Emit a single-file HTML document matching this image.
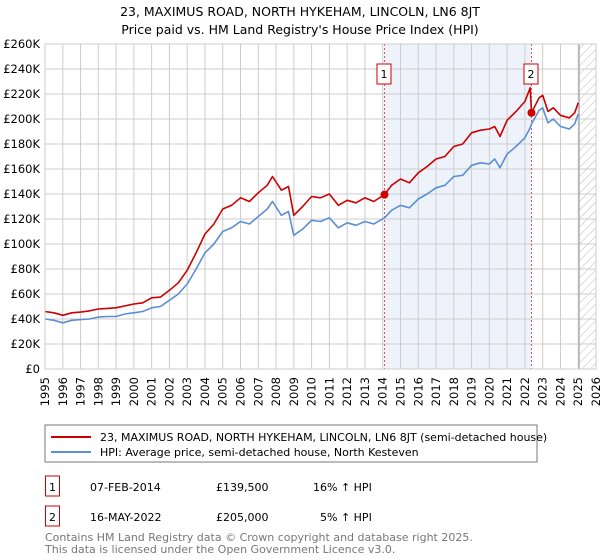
<!DOCTYPE html>
<html><head><meta charset="utf-8">
<style>
body{margin:0;background:#fff;font-family:"Liberation Sans","DejaVu Sans",sans-serif;}
#wrap{position:relative;width:600px;height:560px;overflow:hidden;}
svg text{font-family:"DejaVu Sans","Liberation Sans",sans-serif;}
</style></head>
<body>
<div id="wrap">
<svg id="chart" width="600" height="560" xmlns="http://www.w3.org/2000/svg">
<defs>
<pattern id="hatch" width="6" height="6" patternUnits="userSpaceOnUse" patternTransform="rotate(45)">
<line x1="0" y1="0" x2="0" y2="6" stroke="#bbb" stroke-width="1"/>
</pattern>
</defs>
<text x="300" y="16" text-anchor="middle" font-size="12.5" fill="#000">23, MAXIMUS ROAD, NORTH HYKEHAM, LINCOLN, LN6 8JT</text>
<text x="300" y="34" text-anchor="middle" font-size="12.5" fill="#000">Price paid vs. HM Land Registry's House Price Index (HPI)</text>
<g id="plot"></g>
<rect x="45" y="425" width="492" height="37" fill="#fff" stroke="#777"/>
<line x1="51" y1="437" x2="91" y2="437" stroke="#cc0000" stroke-width="2"/>
<text x="100" y="441" font-size="11">23, MAXIMUS ROAD, NORTH HYKEHAM, LINCOLN, LN6 8JT (semi-detached house)</text>
<line x1="51" y1="452" x2="91" y2="452" stroke="#5b8fd4" stroke-width="2"/>
<text x="100" y="456" font-size="11">HPI: Average price, semi-detached house, North Kesteven</text>
<g>
<rect x="45.5" y="476" width="14" height="20" fill="#fff" stroke="#cc0000"/>
<text x="52.5" y="491" text-anchor="middle" font-size="11">1</text>
<text x="90" y="491" font-size="11">07-FEB-2014</text>
<text x="216" y="491" font-size="11">£139,500</text>
<text x="313" y="491" font-size="11">16% ↑ HPI</text>
</g>
<g>
<rect x="45.5" y="506" width="14" height="20" fill="#fff" stroke="#cc0000"/>
<text x="52.5" y="521" text-anchor="middle" font-size="11">2</text>
<text x="90" y="521" font-size="11">16-MAY-2022</text>
<text x="216" y="521" font-size="11">£205,000</text>
<text x="320" y="521" font-size="11">5% ↑ HPI</text>
</g>
<text x="45" y="541" font-size="11" fill="#777">Contains HM Land Registry data © Crown copyright and database right 2025.</text>
<text x="45" y="553" font-size="11" fill="#777">This data is licensed under the Open Government Licence v3.0.</text>
</svg>
</div>
<script>
const years = [1995,1995.5,1996,1996.5,1997,1997.5,1998,1998.5,1999,1999.5,2000,2000.5,2001,2001.5,2002,2002.5,2003,2003.5,2004,2004.5,2005,2005.5,2006,2006.5,2007,2007.5,2007.8,2008.3,2008.7,2009,2009.5,2010,2010.5,2011,2011.5,2012,2012.5,2013,2013.5,2014.1,2014.5,2015,2015.5,2016,2016.5,2017,2017.5,2018,2018.5,2019,2019.5,2020,2020.3,2020.6,2021,2021.5,2022,2022.3,2022.37,2022.8,2023,2023.3,2023.6,2024,2024.5,2024.8,2025.0];
const hpiValues = [40,39,37,39,39.5,40,41.5,42,42,44,45,46,49,50,55,60,68,80,93,100,110,113,118,116,122,128,134,123,126,107,112,119,118,121,113,117,115,118,116,121,127,131,129,136,140,145,147,154,155,163,165,164,168,161,172,178,185,193,196,207,209,197,200,194,192,196,204];
const propertyValues = [46,45,43,45,45.5,46.5,48,48.5,49,50.5,52,53,57,57.5,63,69,79,93,108,116,128,131,137,134,141,147,154,143,146,123,130,138,137,140,131,135,133,137,134,139.5,147,152,149,157,162,168,170,178,180,189,191,192,194,186,199,206,214,225,205,217,219,206,209,203,201,205,213];
const yTicks = [0,20,40,60,80,100,120,140,160,180,200,220,240,260];
const yTickLabels = ["£0","£20K","£40K","£60K","£80K","£100K","£120K","£140K","£160K","£180K","£200K","£220K","£240K","£260K"];
const xTickYears = [1995,1996,1997,1998,1999,2000,2001,2002,2003,2004,2005,2006,2007,2008,2009,2010,2011,2012,2013,2014,2015,2016,2017,2018,2019,2020,2021,2022,2023,2024,2025,2026];
const saleYears = [2014.1,2022.37];
const salePrices = [139.5,205];
const saleLabels = ["1","2"];

const NS="http://www.w3.org/2000/svg";
const L=45,R=596,T=44,B=369;
const xS=y=>L+(y-1995)/(2026-1995)*(R-L);
const yS=v=>B-v/260*(B-T);
const g=document.getElementById('plot');
function mk(tag,attrs){const e=document.createElementNS(NS,tag);for(const k in attrs)e.setAttribute(k,attrs[k]);g.appendChild(e);return e;}

let e;
e=mk('rect',{x:xS(saleYears[0]),y:T,width:xS(saleYears[1])-xS(saleYears[0]),height:B-T,fill:'#eef3fb'});


e=mk('rect',{x:xS(2025.05),y:T,width:R-xS(2025.05),height:B-T,fill:'url(#hatch)'});


xTickYears.forEach(yr=>{
  const x=xS(yr);
  e=mk('line',{x1:x,y1:T,x2:x,y2:B,stroke:'#ccc','stroke-width':1});
  
  
  e=mk('text',{x:0,y:0,'text-anchor':'end','font-size':11.5,transform:'translate('+(x+4)+',377) rotate(-90)'});
  e.textContent=yr;
  
  
});
yTicks.forEach((v,i)=>{
  const y=yS(v);
  e=mk('line',{x1:L,y1:y,x2:R,y2:y,stroke:'#ccc','stroke-width':1});
  
  
  e=mk('text',{x:L-5,y:y+4,'text-anchor':'end','font-size':11.5});
  e.textContent=yTickLabels[i];
  
  
});
e=mk('line',{x1:xS(2025.05),y1:T,x2:xS(2025.05),y2:B,stroke:'#999','stroke-width':1});


saleYears.forEach((yr,i)=>{
  const x=xS(yr);
  e=mk('line',{x1:x,y1:T,x2:x,y2:B,stroke:'#e05555','stroke-width':1,'stroke-dasharray':'2,2'});
  
  
});
function path(vals,color,name){
  const d=vals.map((v,i)=>(i?'L':'M')+xS(years[i]).toFixed(1)+','+yS(v).toFixed(1)).join('');
  e=mk('path',{d:d,fill:'none',stroke:color,'stroke-width':1.6,'stroke-linejoin':'round'});
  
  
}
path(hpiValues,'#5b8fd4','hpi-line');
path(propertyValues,'#cc0000','property-price-line');
saleYears.forEach((yr,i)=>{
  const x=xS(yr),y=yS(salePrices[i]);
  e=mk('circle',{cx:x,cy:y,r:4,fill:'#cc0000'});
  
  
  e=mk('rect',{x:x-7.5,y:64,width:14,height:20,fill:'#fff',stroke:'#cc0000'});
  
  
  e=mk('text',{x:x-0.5,y:78,'text-anchor':'middle','font-size':11});
  e.textContent=saleLabels[i];
  
  
});
e=mk('rect',{x:L,y:T,width:R-L,height:B-T,fill:'none',stroke:'#ccc'});


</script>
</body></html>
